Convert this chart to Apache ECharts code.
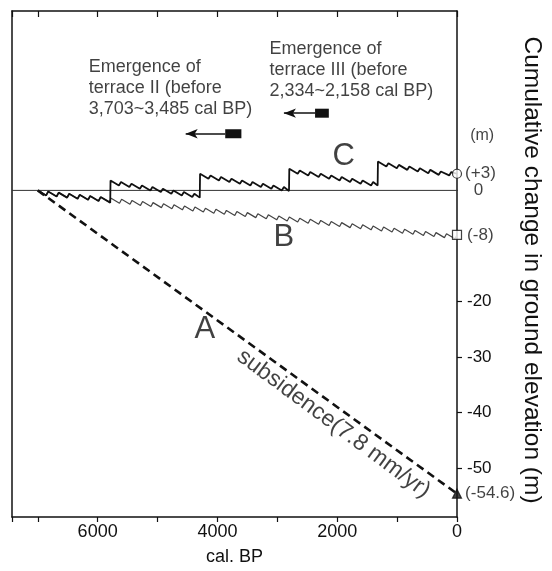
<!DOCTYPE html>
<html>
<head>
<meta charset="utf-8">
<script src="https://cdn.jsdelivr.net/npm/echarts@6/dist/echarts.min.js"></script>
<style>
html,body{margin:0;padding:0;background:#fff;}
#chart{width:552px;height:571px;}
</style>
</head>
<body>
<div id="chart"></div>
<script>
// ---- data ----
const xTickLabels = [6000, 4000, 2000, 0];
const yTickLabels = [-20, -30, -40, -50];

// A: steady subsidence 7.8 mm/yr since 7000 cal BP
const aYear = [7000, 0];
const aVal  = [0, -54.6];

// B: sawtooth, net -8 m
const bYear = [7000,6860,6825,6685,6650,6510,6475,6335,6300,6160,6125,5985,5950,5810,5775,5635,5600,5460,5425,5285,5250,5110,5075,4935,4900,4760,4725,4585,4550,4410,4375,4235,4200,4060,4025,3885,3850,3710,3675,3535,3500,3360,3325,3185,3150,3010,2975,2835,2800,2660,2625,2485,2450,2310,2275,2135,2100,1960,1925,1785,1750,1610,1575,1435,1400,1260,1225,1085,1050,910,875,735,700,560,525,385,350,210,175,35,0];
const bVal  = [0,-0.9,-0.2,-1.1,-0.4,-1.3,-0.6,-1.5,-0.8,-1.7,-1.0,-1.9,-1.2,-2.1,-1.4,-2.3,-1.6,-2.5,-1.8,-2.7,-2.0,-2.9,-2.2,-3.1,-2.4,-3.3,-2.6,-3.5,-2.8,-3.7,-3.0,-3.9,-3.2,-4.1,-3.4,-4.3,-3.6,-4.5,-3.8,-4.7,-4.0,-4.9,-4.2,-5.1,-4.4,-5.3,-4.6,-5.5,-4.8,-5.7,-5.0,-5.9,-5.2,-6.1,-5.4,-6.3,-5.6,-6.5,-5.8,-6.7,-6.0,-6.9,-6.2,-7.1,-6.4,-7.3,-6.6,-7.5,-6.8,-7.7,-7.0,-7.9,-7.2,-8.1,-7.4,-8.3,-7.6,-8.5,-7.8,-8.7,-8.0];

// C: sawtooth with four large uplift events, net +3 m
const cYear = [7000,6860,6825,6685,6650,6510,6475,6335,6300,6160,6125,5985,5950,5790,5785,
  5645,5610,5470,5435,5295,5260,5120,5085,4945,4910,4770,4735,4595,4560,4420,4385,4295,4290,
  4150,4115,3975,3940,3800,3765,3625,3590,3450,3415,3275,3240,3100,3065,2925,2890,2805,2800,
  2660,2625,2485,2450,2310,2275,2135,2100,1960,1925,1785,1750,1610,1575,1435,1400,1325,1320,
  1180,1145,1005,970,830,795,655,620,480,445,305,270,130,95,0];
const cVal  = [0,-0.9,-0.2,-1.1,-0.4,-1.3,-0.6,-1.5,-0.8,-1.7,-1.0,-1.9,-1.2,-2.2,1.8,
  0.9,1.5,0.6,1.2,0.3,0.9,0.0,0.6,-0.3,0.3,-0.6,0.0,-0.9,-0.3,-1.2,-0.6,-1.3,3.0,
  2.1,2.7,1.8,2.4,1.5,2.1,1.2,1.8,0.9,1.5,0.6,1.2,0.3,0.9,0.0,0.6,-0.1,3.9,
  3.0,3.6,2.7,3.3,2.4,3.0,2.1,2.7,1.8,2.4,1.5,2.1,1.2,1.8,0.9,1.5,0.9,5.2,
  4.3,4.9,4.0,4.6,3.7,4.3,3.4,4.0,3.1,3.7,2.8,3.4,2.7,3.3,3.0];

// end-point markers
const endYear  = [0, 0, 0];
const endVal   = [3, -8, -54.6];
const endText  = ['(+3)', '(-8)', '(-54.6)'];

// terrace emergence dates (square = date range, arrow = "before")
const t2Range = [3870, 3600];
const t2Arrow = 4530;
const t2Level = 10.2;
const t3Range = [2370, 2140];
const t3Arrow = 2890;
const t3Level = 13.9;

// zero reference line
const zeroYear = [7430, -270];
const zeroVal  = [0, 0];

// text notes
const noteText = ['Emergence of\nterrace II (before\n3,703~3,485 cal BP)',
                  'Emergence of\nterrace III (before\n2,334~2,158 cal BP)',
                  'A', 'B', 'C', 'subsidence(7.8 mm/yr)', '(m)', '0'];
const noteYear = [6150, 3130, 4210, 2890, 1890, 2060, -420, -280];
const noteVal  = [18.4, 21.7, -25.1, -8.4, 6.1, -42.0, 9.8, 0];

// ---- chart ----
const zip = (xs, ys) => xs.map((x, i) => [x, ys[i]]);
const FONT = '"Liberation Sans", Arial, sans-serif';
const INK = '#111';

const noteStyles = [
  {fontSize: 18, align: 'left', verticalAlign: 'middle', lineHeight: 21},
  {fontSize: 18, align: 'left', verticalAlign: 'middle', lineHeight: 21},
  {fontSize: 31, align: 'center', verticalAlign: 'middle'},
  {fontSize: 31, align: 'center', verticalAlign: 'middle'},
  {fontSize: 31, align: 'center', verticalAlign: 'middle'},
  {fontSize: 23, align: 'center', verticalAlign: 'middle', rotate: -36.5},
  {fontSize: 16, align: 'center', verticalAlign: 'middle'},
  {fontSize: 17, align: 'left', verticalAlign: 'middle'}
];

const chart = echarts.init(document.getElementById('chart'), null, {renderer: 'canvas'});

const xBase = {
  type: 'value', inverse: true, min: 0, max: 7430, interval: 1000,
  splitLine: {show: false},
  axisLine: {show: true, onZero: false, lineStyle: {color: INK, width: 1.5}}
};

chart.setOption({
  animation: false,
  backgroundColor: '#fff',
  textStyle: {fontFamily: FONT, color: INK},
  grid: {left: 12, right: 95, top: 11, bottom: 49, containLabel: false},
  xAxis: [
    Object.assign({}, xBase, {
      position: 'bottom',
      axisTick: {show: true, inside: false, length: 5, lineStyle: {color: INK, width: 1.2}},
      axisLabel: {show: true, customValues: xTickLabels, fontSize: 18, color: INK, margin: 6,
                  fontFamily: FONT, formatter: v => String(v)},
      name: 'cal. BP', nameLocation: 'middle', nameGap: 31,
      nameTextStyle: {fontSize: 18, color: INK, fontFamily: FONT}
    }),
    Object.assign({}, xBase, {
      position: 'top',
      axisTick: {show: true, inside: true, length: 6, lineStyle: {color: INK, width: 1.2}},
      axisLabel: {show: false}
    })
  ],
  yAxis: [
    {
      type: 'value', position: 'right', min: -58.8, max: 32.3,
      splitLine: {show: false},
      axisLine: {show: true, onZero: false, lineStyle: {color: INK, width: 1.5}},
      axisTick: {show: true, inside: false, length: 5, customValues: yTickLabels, lineStyle: {color: INK, width: 1.2}},
      axisLabel: {show: true, customValues: yTickLabels, fontSize: 17, color: INK, margin: 10,
                  fontFamily: FONT, formatter: v => String(v)},
      name: 'Cumulative change in ground elevation (m)',
      nameLocation: 'middle', nameRotate: -90, nameGap: 62,
      nameTextStyle: {fontSize: 24.5, color: INK, fontFamily: FONT, padding: [0, 0, 0, 12]}
    },
    {
      type: 'value', position: 'left', min: -58.8, max: 32.3,
      splitLine: {show: false},
      axisLine: {show: true, onZero: false, lineStyle: {color: INK, width: 1.5}},
      axisTick: {show: false}, axisLabel: {show: false}
    }
  ],
  series: [
    {
      name: 'zero', type: 'line', clip: false, symbol: 'none', silent: true,
      data: zip(zeroYear, zeroVal),
      lineStyle: {color: '#333', width: 1}
    },
    {
      name: 'A', type: 'line', symbol: 'none', clip: false,
      data: zip(aYear, aVal),
      lineStyle: {color: INK, width: 2.6, type: [8, 5]}
    },
    {
      name: 'B', type: 'line', symbol: 'none', clip: false,
      data: zip(bYear, bVal),
      lineStyle: {color: '#444', width: 1.2}
    },
    {
      name: 'C', type: 'line', symbol: 'none', clip: false,
      data: zip(cYear, cVal),
      lineStyle: {color: INK, width: 1.8}
    },
    {
      name: 'terrace II', type: 'line', symbol: 'none', clip: false,
      data: zip(t2Range, [t2Level, t2Level]),
      lineStyle: {color: INK, width: 9, cap: 'butt'},
      markLine: {
        silent: true, symbol: ['none', 'arrow'], symbolSize: [7, 12],
        label: {show: false},
        lineStyle: {color: INK, width: 1.5, type: 'solid'},
        data: [[{coord: [t2Range[0], t2Level]}, {coord: [t2Arrow, t2Level]}]]
      }
    },
    {
      name: 'terrace III', type: 'line', symbol: 'none', clip: false,
      data: zip(t3Range, [t3Level, t3Level]),
      lineStyle: {color: INK, width: 9, cap: 'butt'},
      markLine: {
        silent: true, symbol: ['none', 'arrow'], symbolSize: [7, 12],
        label: {show: false},
        lineStyle: {color: INK, width: 1.5, type: 'solid'},
        data: [[{coord: [t3Range[0], t3Level]}, {coord: [t3Arrow, t3Level]}]]
      }
    },
    {
      name: 'ends', type: 'scatter', clip: false, z: 5,
      data: endYear.map((x, i) => ({
        value: [x, endVal[i]],
        symbol: ['circle', 'rect', 'triangle'][i],
        symbolSize: [9, 9, 9][i],
        itemStyle: {color: i === 2 ? INK : '#fff', borderColor: INK, borderWidth: 1.2},
        label: {show: true, position: 'right', distance: i === 1 ? 5 : 3,
                formatter: endText[i], fontSize: 17, color: INK, fontFamily: FONT}
      }))
    },
    {
      name: 'notes', type: 'scatter', clip: false, silent: true, z: 6,
      symbolSize: 1,
      itemStyle: {color: 'rgba(0,0,0,0)'},
      data: noteYear.map((x, i) => ({
        value: [x, noteVal[i]],
        label: Object.assign({show: true, position: 'inside', formatter: noteText[i],
                              color: INK, fontFamily: FONT}, noteStyles[i])
      }))
    }
  ]
});
</script>
</body>
</html>
